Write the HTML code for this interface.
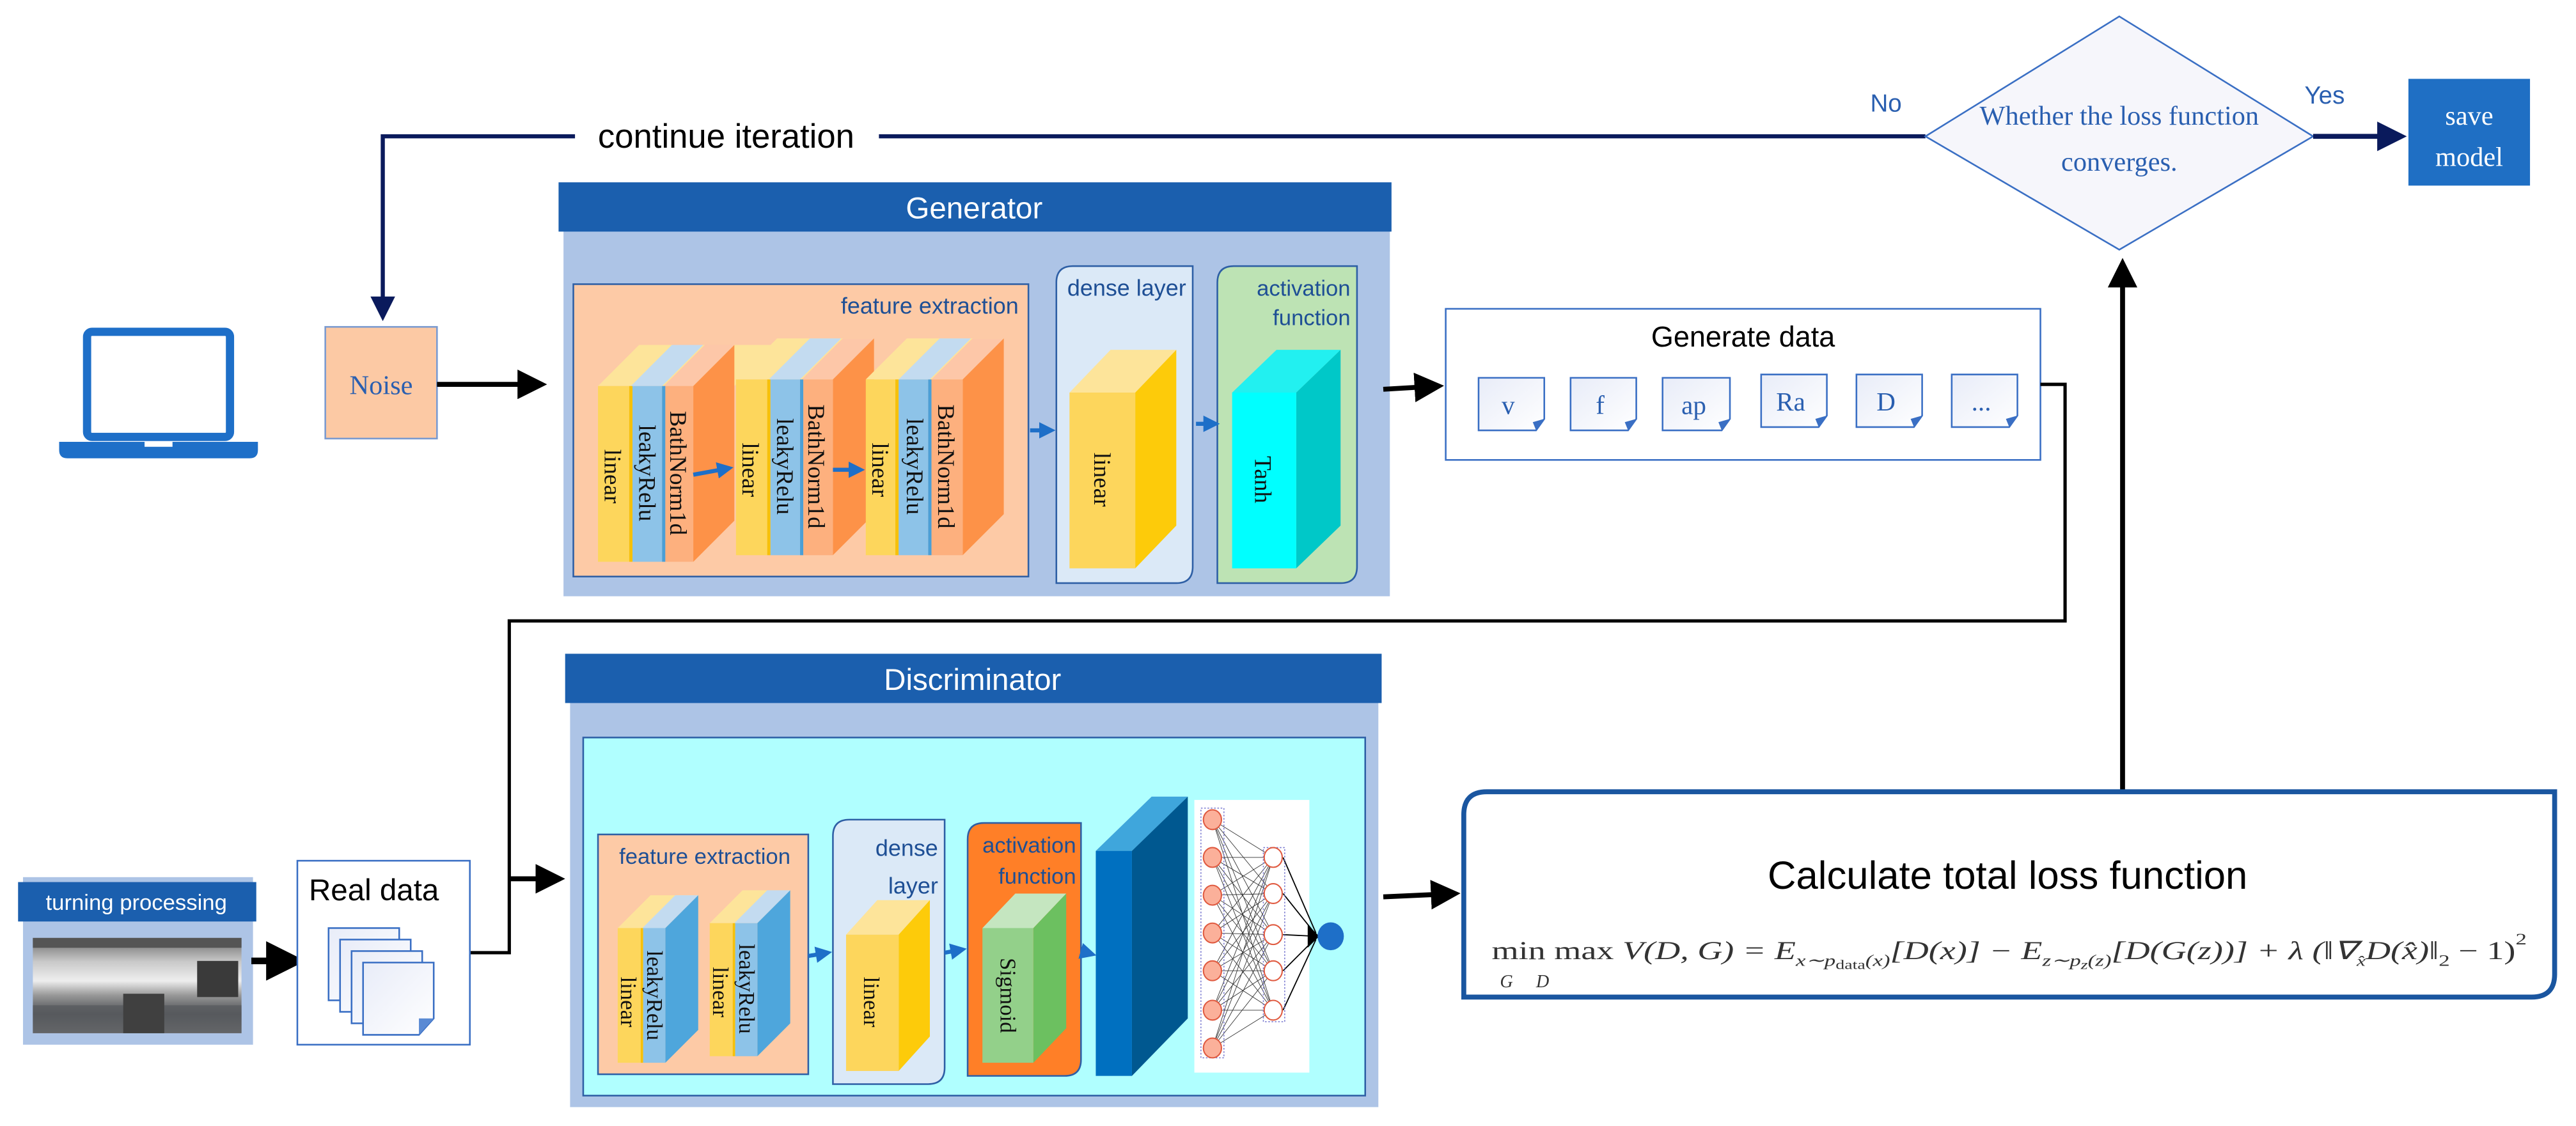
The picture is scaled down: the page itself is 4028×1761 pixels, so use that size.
<!DOCTYPE html>
<html><head><meta charset="utf-8"><style>html,body{margin:0;padding:0;background:#fff}svg{display:block}</style></head><body>
<svg width="4028" height="1761" viewBox="0 0 1568 685.5" preserveAspectRatio="none" xmlns="http://www.w3.org/2000/svg">
<defs>
<marker id="ab" markerWidth="6" markerHeight="6" refX="5" refY="3" orient="auto" markerUnits="strokeWidth"><path d="M0,0 L6,3 L0,6 z" fill="#000"/></marker>
<marker id="an" markerWidth="6" markerHeight="6" refX="5" refY="3" orient="auto" markerUnits="strokeWidth"><path d="M0,0 L6,3 L0,6 z" fill="#0a1a5c"/></marker>
<marker id="abl" markerWidth="4" markerHeight="4" refX="3" refY="2" orient="auto" markerUnits="strokeWidth"><path d="M0,0 L4,2 L0,4 z" fill="#1e6fc8"/></marker>
<linearGradient id="doc" x1="0" y1="0" x2="1" y2="1"><stop offset="0" stop-color="#e8ecf8"/><stop offset="1" stop-color="#fff"/></linearGradient>
<linearGradient id="metal" x1="0" y1="0" x2="0" y2="1"><stop offset="0" stop-color="#6a6a6a"/><stop offset="0.25" stop-color="#c9c9c9"/><stop offset="0.45" stop-color="#eee"/><stop offset="0.6" stop-color="#999"/><stop offset="0.8" stop-color="#4a4d52"/><stop offset="1" stop-color="#888"/></linearGradient>
</defs>
<g font-family="Liberation Sans, sans-serif">
<polyline points="1172,83 233,83 233,193" fill="none" stroke="#0a1a5c" stroke-width="2.5" marker-end="url(#an)"/>
<rect x="350" y="70" width="185" height="26" fill="#fff"/>
<text x="442" y="90" font-size="20.5" text-anchor="middle" fill="#000">continue iteration</text>
<text x="1148" y="68" font-size="15" fill="#2a5fb0" text-anchor="middle">No</text>
<text x="1415" y="63" font-size="15" fill="#2a5fb0" text-anchor="middle">Yes</text>
<polygon points="1290,10 1408,83 1290,152 1172,83" fill="#f6f6fb" stroke="#3a6fc4" stroke-width="1"/>
<text x="1290" y="76" font-family="Liberation Serif, serif" font-size="16.5" fill="#2a5fb0" text-anchor="middle">Whether the loss function</text>
<text x="1290" y="104" font-family="Liberation Serif, serif" font-size="16.5" fill="#2a5fb0" text-anchor="middle">converges.</text>
<line x1="1408" y1="83" x2="1462" y2="83" stroke="#0a1a5c" stroke-width="3" marker-end="url(#an)"/>
<rect x="1466" y="48" width="74" height="65" fill="#1f6fc4"/>
<text x="1503" y="76" font-family="Liberation Serif, serif" font-size="16.5" fill="#fff" text-anchor="middle">save</text>
<text x="1503" y="101" font-family="Liberation Serif, serif" font-size="16.5" fill="#fff" text-anchor="middle">model</text>
<line x1="1292" y1="482" x2="1292" y2="160" stroke="#000" stroke-width="3" marker-end="url(#ab)"/>
<rect x="53" y="202" width="87" height="64" rx="3" fill="#fff" stroke="#1e6fc8" stroke-width="5"/>
<path d="M36,269 H157 V274 Q157,279 152,279 H41 Q36,279 36,274 Z" fill="#1e6fc8"/>
<rect x="88" y="269" width="17" height="3" fill="#fff"/>
<rect x="198" y="199" width="68" height="68" fill="#fcc9a4" stroke="#7a9ad0" stroke-width="1"/>
<text x="232" y="240" font-family="Liberation Serif, serif" font-size="16.5" fill="#2a5fb0" text-anchor="middle">Noise</text>
<line x1="266" y1="234" x2="330" y2="234" stroke="#000" stroke-width="3" marker-end="url(#ab)"/>
<rect x="343" y="140" width="503" height="223" fill="#adc4e6"/>
<rect x="340" y="111" width="507" height="30" fill="#1b5fae"/>
<text x="593" y="133" font-size="18.5" fill="#fff" text-anchor="middle">Generator</text>
<rect x="349" y="173" width="277" height="178" fill="#fdcaa6" stroke="#2e5fa5" stroke-width="1"/>
<text x="620" y="191" font-size="14" fill="#1e4f95" text-anchor="end">feature extraction</text>
<path d="M643,172 Q643,162 653,162 H726 V345 Q726,355 716,355 H643 Z" fill="#dbe9f7" stroke="#2e5fa5" stroke-width="1"/>
<text x="722" y="180" font-size="14" fill="#1e4f95" text-anchor="end">dense layer</text>
<path d="M741,172 Q741,162 751,162 H826 V345 Q826,355 816,355 H741 Z" fill="#bde3b4" stroke="#2e5fa5" stroke-width="1"/>
<text x="822" y="180" font-size="13.5" fill="#1e4f95" text-anchor="end">activation</text>
<text x="822" y="198" font-size="13.5" fill="#1e4f95" text-anchor="end">function</text>
<g font-family="Liberation Serif, serif" font-size="14.5" fill="#111">
<g>
<polygon points="364,235 389,210 472,210 447,235" fill="#fde49a"/>
<polygon points="384,235 409,210 428,210 403,235" fill="#c3dbf0"/>
<polygon points="404,235 429,210 447,210 422,235" fill="#fdc7a8"/>
<polygon points="422,235 447,210 447,317 422,342" fill="#fd9248"/>
<rect x="364" y="235" width="19" height="107" fill="#fdd65c"/>
<rect x="383" y="235" width="2" height="107" fill="#f6c10a"/>
<rect x="385" y="235" width="18" height="107" fill="#8dc3e8"/>
<rect x="403" y="235" width="2" height="107" fill="#4b9fd6"/>
<rect x="405" y="235" width="17" height="107" fill="#fdb07e"/>
</g>
<g>
<polygon points="448,231 473,206 532,206 507,231" fill="#fde49a"/>
<polygon points="468,231 493,206 512,206 487,231" fill="#c3dbf0"/>
<polygon points="488,231 513,206 532,206 507,231" fill="#fdc7a8"/>
<polygon points="507,231 532,206 532,313 507,338" fill="#fd9248"/>
<rect x="448" y="231" width="19" height="107" fill="#fdd65c"/>
<rect x="467" y="231" width="2" height="107" fill="#f6c10a"/>
<rect x="469" y="231" width="18" height="107" fill="#8dc3e8"/>
<rect x="487" y="231" width="2" height="107" fill="#4b9fd6"/>
<rect x="489" y="231" width="18" height="107" fill="#fdb07e"/>
</g>
<g>
<polygon points="527,231 552,206 611,206 586,231" fill="#fde49a"/>
<polygon points="547,231 572,206 591,206 566,231" fill="#c3dbf0"/>
<polygon points="567,231 592,206 611,206 586,231" fill="#fdc7a8"/>
<polygon points="586,231 611,206 611,313 586,338" fill="#fd9248"/>
<rect x="527" y="231" width="18" height="107" fill="#fdd65c"/>
<rect x="545" y="231" width="2" height="107" fill="#f6c10a"/>
<rect x="547" y="231" width="18" height="107" fill="#8dc3e8"/>
<rect x="565" y="231" width="2" height="107" fill="#4b9fd6"/>
<rect x="567" y="231" width="19" height="107" fill="#fdb07e"/>
</g>
<text transform="translate(368,290) rotate(90)" text-anchor="middle">linear</text>
<text transform="translate(389,288) rotate(90)" text-anchor="middle">leakyRelu</text>
<text transform="translate(408,288) rotate(90)" text-anchor="middle">BathNorm1d</text>
<text transform="translate(452,286) rotate(90)" text-anchor="middle">linear</text>
<text transform="translate(473,284) rotate(90)" text-anchor="middle">leakyRelu</text>
<text transform="translate(492,284) rotate(90)" text-anchor="middle">BathNorm1d</text>
<text transform="translate(531,286) rotate(90)" text-anchor="middle">linear</text>
<text transform="translate(552,284) rotate(90)" text-anchor="middle">leakyRelu</text>
<text transform="translate(571,284) rotate(90)" text-anchor="middle">BathNorm1d</text>
<polygon points="651,239 676,213 716,213 691,239" fill="#fde49a"/>
<polygon points="691,239 716,213 716,320 691,346" fill="#fdcb0a"/>
<rect x="651" y="239" width="40" height="107" fill="#fdd65c"/>
<text transform="translate(666,292) rotate(90)" text-anchor="middle">linear</text>
<polygon points="750,239 777,213 816,213 789,239" fill="#22f0f0"/>
<polygon points="789,239 816,213 816,320 789,346" fill="#00c8c8"/>
<rect x="750" y="239" width="39" height="107" fill="#00ffff"/>
<text transform="translate(764,292) rotate(90)" text-anchor="middle">Tanh</text>
</g>
<g stroke="#1e6fc8" stroke-width="2.5" fill="none" marker-end="url(#abl)">
<line x1="422" y1="289" x2="444" y2="285"/>
<line x1="507" y1="286" x2="524" y2="286"/>
<line x1="627" y1="262" x2="640" y2="262"/>
<line x1="728" y1="258" x2="740" y2="258"/>
</g>
<line x1="842" y1="237" x2="876" y2="235" stroke="#000" stroke-width="3" marker-end="url(#ab)"/>
<rect x="880" y="188" width="362" height="92" fill="#fff" stroke="#3a6fc4" stroke-width="1"/>
<text x="1061" y="211" font-size="17.5" fill="#000" text-anchor="middle">Generate data</text>
<g font-family="Liberation Serif, serif" font-size="16" fill="#2a5fb0" text-anchor="middle">
<g><path d="M900,230 H940 V255 L935,262 H900 Z" fill="url(#doc)" stroke="#3a6fc4"/><path d="M940,255 L935,262 L933,257 Z" fill="#3a6fc4"/><text x="918" y="252">v</text></g>
<g><path d="M956,230 H996 V255 L991,262 H956 Z" fill="url(#doc)" stroke="#3a6fc4"/><path d="M996,255 L991,262 L989,257 Z" fill="#3a6fc4"/><text x="974" y="252">f</text></g>
<g><path d="M1012,230 H1053 V255 L1048,262 H1012 Z" fill="url(#doc)" stroke="#3a6fc4"/><path d="M1053,255 L1048,262 L1046,257 Z" fill="#3a6fc4"/><text x="1031" y="252">ap</text></g>
<g><path d="M1072,228 H1112 V253 L1107,260 H1072 Z" fill="url(#doc)" stroke="#3a6fc4"/><path d="M1112,253 L1107,260 L1105,255 Z" fill="#3a6fc4"/><text x="1090" y="250">Ra</text></g>
<g><path d="M1130,228 H1170 V253 L1165,260 H1130 Z" fill="url(#doc)" stroke="#3a6fc4"/><path d="M1170,253 L1165,260 L1163,255 Z" fill="#3a6fc4"/><text x="1148" y="250">D</text></g>
<g><path d="M1188,228 H1228 V253 L1223,260 H1188 Z" fill="url(#doc)" stroke="#3a6fc4"/><path d="M1228,253 L1223,260 L1221,255 Z" fill="#3a6fc4"/><text x="1206" y="250">...</text></g>
</g>
<polyline points="1242,234 1257,234 1257,378 310,378 310,580 286,580" fill="none" stroke="#000" stroke-width="2"/>
<line x1="310" y1="535" x2="341" y2="535" stroke="#000" stroke-width="3" marker-end="url(#ab)"/>
<rect x="14" y="534" width="140" height="102" fill="#adc4e6"/>
<rect x="11" y="537" width="145" height="24" fill="#1b5fae"/>
<text x="83" y="554" font-size="13.5" fill="#fff" text-anchor="middle">turning processing</text>
<rect x="20" y="571" width="127" height="58" fill="url(#metal)"/>
<rect x="20" y="571" width="127" height="6" fill="#555"/>
<rect x="120" y="585" width="25" height="22" fill="#3a3a3a"/>
<rect x="20" y="612" width="127" height="17" fill="#5a5c60" opacity="0.8"/>
<rect x="75" y="605" width="25" height="24" fill="#404040"/>
<line x1="153" y1="585" x2="182" y2="585" stroke="#000" stroke-width="4" marker-end="url(#ab)"/>
<rect x="181" y="524" width="105" height="112" fill="#fff" stroke="#3a6fc4" stroke-width="1"/>
<text x="188" y="548" font-size="18.5" fill="#000">Real data</text>
<rect x="200" y="565" width="43" height="44" fill="url(#doc)" stroke="#3a6fc4"/>
<rect x="207" y="572" width="43" height="44" fill="url(#doc)" stroke="#3a6fc4"/>
<rect x="214" y="579" width="43" height="44" fill="url(#doc)" stroke="#3a6fc4"/>
<path d="M221,586 H264 V620 L255,630 H221 Z" fill="url(#doc)" stroke="#3a6fc4"/>
<path d="M264,620 L255,630 L255,620 Z" fill="#5a8ad4"/>
<rect x="347" y="428" width="492" height="246" fill="#adc4e6"/>
<rect x="344" y="398" width="497" height="30" fill="#1b5fae"/>
<text x="592" y="420" font-size="18.5" fill="#fff" text-anchor="middle">Discriminator</text>
<rect x="355" y="449" width="476" height="218" fill="#b0ffff" stroke="#2e5fa5" stroke-width="1"/>
<rect x="364" y="508" width="128" height="146" fill="#fdcaa6" stroke="#2e5fa5" stroke-width="1"/>
<text x="429" y="526" font-size="13.5" fill="#1e4f95" text-anchor="middle">feature extraction</text>
<path d="M507,509 Q507,499 517,499 H575 V650 Q575,660 565,660 H507 Z" fill="#dbe9f7" stroke="#2e5fa5" stroke-width="1"/>
<text x="571" y="521" font-size="14" fill="#1e4f95" text-anchor="end">dense</text>
<text x="571" y="544" font-size="14" fill="#1e4f95" text-anchor="end">layer</text>
<path d="M589,511 Q589,501 599,501 H658 V645 Q658,655 648,655 H589 Z" fill="#ff7f27" stroke="#2e5fa5" stroke-width="1"/>
<text x="655" y="519" font-size="13.5" fill="#1e4f95" text-anchor="end">activation</text>
<text x="655" y="538" font-size="13.5" fill="#1e4f95" text-anchor="end">function</text>
<g font-family="Liberation Serif, serif" font-size="13.5" fill="#111">
<polygon points="376,565 396,545 425,545 405,565" fill="#fde49a"/>
<polygon points="391,565 411,545 425,545 405,565" fill="#c3dbf0"/>
<polygon points="405,565 425,545 425,627 405,647" fill="#4ea6dc"/>
<rect x="376" y="565" width="14" height="82" fill="#fdd65c"/>
<rect x="390" y="565" width="1.5" height="82" fill="#f6c10a"/>
<rect x="391.5" y="565" width="13.5" height="82" fill="#8dc3e8"/>
<polygon points="432,562 452,542 481,542 461,562" fill="#fde49a"/>
<polygon points="447,562 467,542 481,542 461,562" fill="#c3dbf0"/>
<polygon points="461,562 481,542 481,623 461,643" fill="#4ea6dc"/>
<rect x="432" y="562" width="14" height="81" fill="#fdd65c"/>
<rect x="446" y="562" width="1.5" height="81" fill="#f6c10a"/>
<rect x="447.5" y="562" width="13.5" height="81" fill="#8dc3e8"/>
<text transform="translate(378,610) rotate(90)" text-anchor="middle">linear</text>
<text transform="translate(394,606) rotate(90)" text-anchor="middle">leakyRelu</text>
<text transform="translate(434,604) rotate(90)" text-anchor="middle">linear</text>
<text transform="translate(450,602) rotate(90)" text-anchor="middle">leakyRelu</text>
<polygon points="515,569 534,548 566,548 547,569" fill="#fde49a"/>
<polygon points="547,569 566,548 566,631 547,652" fill="#fdcb0a"/>
<rect x="515" y="569" width="32" height="83" fill="#fdd65c"/>
<text transform="translate(526,610) rotate(90)" text-anchor="middle">linear</text>
<polygon points="598,565 618,544 649,544 629,565" fill="#c5e6c0"/>
<polygon points="629,565 649,544 649,626 629,647" fill="#6cc060"/>
<rect x="598" y="565" width="31" height="82" fill="#93d08a"/>
<text transform="translate(609,606) rotate(90)" text-anchor="middle">Sigmoid</text>
</g>
<polygon points="667,518 701,485 723,485 689,518" fill="#3fa6dc"/>
<polygon points="689,518 723,485 723,620 689,655" fill="#005890"/>
<rect x="667" y="518" width="22" height="137" fill="#0070c0"/>
<g stroke="#1e6fc8" stroke-width="2.5" fill="none" marker-end="url(#abl)">
<line x1="492" y1="582" x2="504" y2="580"/>
<line x1="575" y1="580" x2="586" y2="578"/>
<line x1="658" y1="579" x2="665" y2="581"/>
</g>
<rect x="727" y="487" width="70" height="166" fill="#fff"/>
<g stroke="#333" stroke-width="0.35">
<path d="M738,499 L775,522 M738,499 L775,544 M738,499 L775,569 M738,499 L775,591 M738,499 L775,615
M738,522 L775,522 M738,522 L775,544 M738,522 L775,569 M738,522 L775,591 M738,522 L775,615
M738,545 L775,522 M738,545 L775,544 M738,545 L775,569 M738,545 L775,591 M738,545 L775,615
M738,568 L775,522 M738,568 L775,544 M738,568 L775,569 M738,568 L775,591 M738,568 L775,615
M738,591 L775,522 M738,591 L775,544 M738,591 L775,569 M738,591 L775,591 M738,591 L775,615
M738,615 L775,522 M738,615 L775,544 M738,615 L775,569 M738,615 L775,591 M738,615 L775,615
M738,638 L775,522 M738,638 L775,544 M738,638 L775,569 M738,638 L775,591 M738,638 L775,615"/>
</g>
<g stroke="#000" stroke-width="0.7">
<line x1="781" y1="522" x2="801" y2="568"/><line x1="781" y1="544" x2="801" y2="569"/><line x1="781" y1="569" x2="801" y2="570"/><line x1="781" y1="591" x2="801" y2="571"/><line x1="781" y1="615" x2="801" y2="572"/>
</g>
<polygon points="796,563 803,570 796,577" fill="#000"/>
<rect x="731" y="492" width="14" height="152" fill="none" stroke="#7a7ad0" stroke-width="0.6" stroke-dasharray="1,1"/>
<rect x="769" y="516" width="13" height="106" fill="none" stroke="#7a7ad0" stroke-width="0.6" stroke-dasharray="1,1"/>
<g fill="#fbb09a" stroke="#e05a40" stroke-width="0.8">
<ellipse cx="738" cy="499" rx="5.5" ry="6"/><ellipse cx="738" cy="522" rx="5.5" ry="6"/><ellipse cx="738" cy="545" rx="5.5" ry="6"/><ellipse cx="738" cy="568" rx="5.5" ry="6"/><ellipse cx="738" cy="591" rx="5.5" ry="6"/><ellipse cx="738" cy="615" rx="5.5" ry="6"/><ellipse cx="738" cy="638" rx="5.5" ry="6"/>
</g>
<g fill="#fff" stroke="#e05a40" stroke-width="0.8">
<ellipse cx="775" cy="522" rx="5.5" ry="6"/><ellipse cx="775" cy="544" rx="5.5" ry="6"/><ellipse cx="775" cy="569" rx="5.5" ry="6"/><ellipse cx="775" cy="591" rx="5.5" ry="6"/><ellipse cx="775" cy="615" rx="5.5" ry="6"/>
</g>
<ellipse cx="810" cy="570" rx="8" ry="8.5" fill="#1e6fc8"/>
<line x1="842" y1="546" x2="886" y2="544" stroke="#000" stroke-width="3" marker-end="url(#ab)"/>
<path d="M891,496 Q891,482 905,482 H1555 V593 Q1555,607 1541,607 H891 Z" fill="#fff" stroke="#1a56a0" stroke-width="3"/>
<text x="1222" y="541" font-size="24" fill="#000" text-anchor="middle">Calculate total loss function</text>
<text x="908" y="584" font-family="Liberation Serif, serif" font-size="15.5" fill="#333" font-style="italic" textLength="630" lengthAdjust="spacingAndGlyphs"><tspan font-style="normal">min max</tspan> V(D, G) = E<tspan font-size="10" dy="4">x∼p</tspan><tspan font-size="8" dy="2" font-style="normal">data</tspan><tspan font-size="10" dy="-2">(x)</tspan><tspan dy="-4">[D(x)] − E</tspan><tspan font-size="10" dy="4">z∼p</tspan><tspan font-size="8" dy="2">z</tspan><tspan font-size="10" dy="-2">(z)</tspan><tspan dy="-4">[D(G(z))] + λ (‖∇</tspan><tspan font-size="9" dy="4">x̂</tspan><tspan dy="-4">D(x̂)‖</tspan><tspan font-size="10" dy="4" font-style="normal">2</tspan><tspan dy="-4" font-style="normal"> − 1)</tspan><tspan font-size="10" dy="-9" font-style="normal">2</tspan></text>
<text x="913" y="601" font-family="Liberation Serif, serif" font-size="11" font-style="italic" fill="#333">G</text>
<text x="935" y="601" font-family="Liberation Serif, serif" font-size="11" font-style="italic" fill="#333">D</text>
</g>
</svg>
</body></html>
